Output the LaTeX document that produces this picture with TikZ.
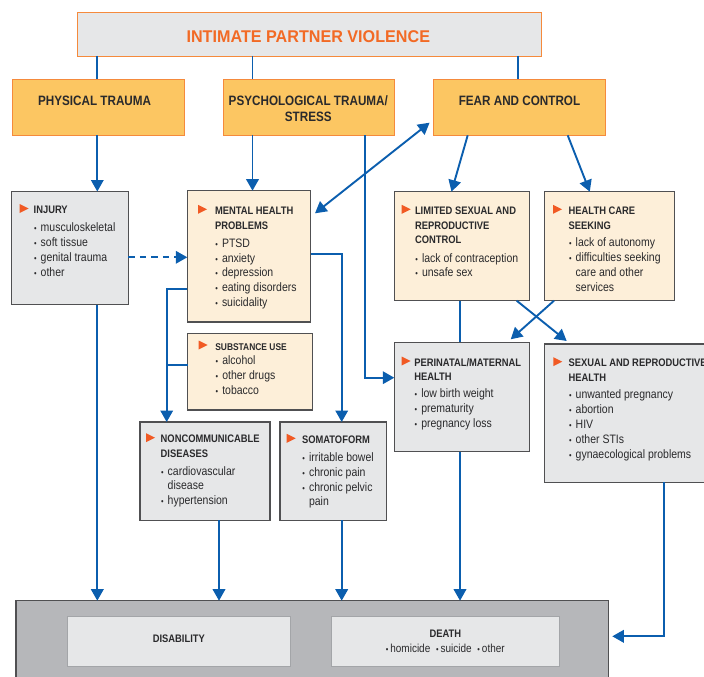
\documentclass[tikz,border=0pt]{standalone}
\usepackage{fontspec}
\setmainfont{Liberation Sans}[FakeStretch=0.86]
\newfontfamily\ipvfont{Liberation Sans}[FakeStretch=0.95]
\usetikzlibrary{arrows.meta,calc}

\definecolor{arrblue}{HTML}{0B5EAE}
\definecolor{orline}{HTML}{F58A3C}
\definecolor{ortext}{HTML}{F26A25}
\definecolor{ortri}{HTML}{F15A24}
\definecolor{lgrey}{HTML}{E6E7E8}
\definecolor{dgrey}{HTML}{505052}
\definecolor{yell}{HTML}{FCC662}
\definecolor{beige}{HTML}{FDEFD9}
\definecolor{midgrey}{HTML}{B6B7BA}
\definecolor{inbord}{HTML}{A3A5A8}
\definecolor{txt}{HTML}{2A2A2C}

\newcommand\bodyfont{\fontsize{12.2}{14.8}\selectfont}
\newcommand\ttl[1]{{\fontsize{10.9}{14.8}\selectfont\bfseries #1}\par}
\newcommand\itm[1]{\makebox[7pt][l]{\hspace{0.3pt}\fontsize{8.5}{8.5}\selectfont\textbullet}#1\par}
\newcommand\cnt[1]{\hspace*{7pt}#1\par}
\newcommand\gp[1][3.3pt]{\vspace{#1}}
\newcommand\bulin{{\fontsize{8.5}{8.5}\selectfont\textbullet}\,}
\newcommand\tri[2]{\fill[ortri] (#1,#2-9.5) -- (#1+9,#2-5) -- (#1,#2-0.5) -- cycle;}
\newcommand\content[1]{\parbox[t]{220pt}{#1}}

\tikzset{
  bx/.style={draw=dgrey, line width=1.2pt, inner sep=0pt, outer sep=0pt, anchor=north west},
  gbox/.style={bx, fill=lgrey},
  bbox/.style={bx, fill=beige},
  ybox/.style={draw=orline, line width=0.9pt, fill=yell, inner sep=0pt, outer sep=0pt, anchor=north west},
  ipvbox/.style={draw=orline, line width=0.9pt, fill=lgrey, inner sep=0pt, outer sep=0pt, anchor=north west},
  outbox/.style={draw=dgrey, line width=1.2pt, fill=midgrey, inner sep=0pt, outer sep=0pt, anchor=north west},
  inbox/.style={draw=inbord, line width=1pt, fill=lgrey, inner sep=0pt, outer sep=0pt, anchor=north west},
  txtn/.style={inner sep=0pt, outer sep=0pt, anchor=base west, text=txt, font=\bodyfont},
  ctxt/.style={inner sep=0pt, outer sep=0pt, anchor=base, text=txt},
  ln/.style={draw=arrblue, line width=1.9pt},
  arr/.style={ln, -{Triangle[length=11.5pt,width=12.5pt]}},
  darr/.style={ln, {Triangle[length=11.5pt,width=12.5pt]}-{Triangle[length=11.5pt,width=12.5pt]}},
  dsh/.style={arr, dash pattern=on 6.5pt off 5pt},
}

\begin{document}
\begin{tikzpicture}[x=1pt,y=-1pt]
\useasboundingbox (0,0) rectangle (704,677);

% ---------- boxes ----------
\node[ipvbox, minimum width=464.1, minimum height=43.7] (ipv) at (77.6,12.3) {};
\node[ybox, minimum width=171.7, minimum height=56] (pt) at (12.6,79.3) {};
\node[ybox, minimum width=170.9, minimum height=56] (psy) at (223.3,79.3) {};
\node[ybox, minimum width=171.4, minimum height=56] (fear) at (433.6,79.3) {};

\node[gbox, minimum width=116.6, minimum height=113.2] (inj) at (11.7,191.5) {};
\node[bbox, minimum width=123.4, minimum height=131.3] (ment) at (187.3,190.7) {};
\node[bbox, minimum width=134.6, minimum height=109] (lsrc) at (394.7,191.7) {};
\node[bbox, minimum width=130.4, minimum height=109] (hcs) at (544.3,191.7) {};
\node[bbox, minimum width=124.6, minimum height=76.7] (sub) at (187.7,333.3) {};
\node[gbox, minimum width=130, minimum height=98.3] (ncd) at (140,422) {};
\node[gbox, minimum width=106.7, minimum height=98.3] (som) at (280,422) {};
\node[gbox, minimum width=135.4, minimum height=109.4] (peri) at (394.3,342.3) {};
\node[gbox, minimum width=175.7, minimum height=138.3] (srh) at (544.3,344) {};

\node[outbox, minimum width=592.3, minimum height=90] (out) at (16,600.7) {};
\node[inbox, minimum width=223.3, minimum height=49.7] (dis) at (67.3,616.3) {};
\node[inbox, minimum width=228.6, minimum height=49.7] (death) at (331,616.3) {};

% ---------- texts ----------
\node[inner sep=0pt, anchor=base, text=ortext, font={\ipvfont\fontsize{17}{20}\selectfont\bfseries}] (ipvT) at (308.3,42.3) {INTIMATE PARTNER VIOLENCE};
\node[ctxt, font={\fontsize{13.6}{16}\selectfont\bfseries}] (ptT) at (94.6,106) {PHYSICAL TRAUMA};
\node[ctxt, font={\fontsize{13.6}{16}\selectfont\bfseries}] (psyT) at (308.3,106) {\parbox[t]{170pt}{\centering PSYCHOLOGICAL TRAUMA/\\STRESS}};
\node[ctxt, font={\fontsize{13.6}{16}\selectfont\bfseries}] (fearT) at (519.5,106) {FEAR AND CONTROL};

\tri{19.7}{213.5}
\node[txtn] (injT) at (33.7,213.5) {\content{\ttl{INJURY}\gp[3.6pt]\itm{musculoskeletal}\itm{soft tissue}\itm{genital trauma}\itm{other}}};

\tri{198}{214.3}
\node[txtn] (mentT) at (215,214.3) {\content{\ttl{MENTAL HEALTH}\ttl{PROBLEMS}\gp\itm{PTSD}\itm{anxiety}\itm{depression}\itm{eating disorders}\itm{suicidality}}};

\tri{401.7}{214.3}
\node[txtn] (lsrcT) at (415,214.3) {\content{\ttl{LIMITED SEXUAL AND}\ttl{REPRODUCTIVE}\ttl{CONTROL}\gp\itm{lack of contraception}\itm{unsafe sex}}};

\tri{553}{214.3}
\node[txtn] (hcsT) at (568.7,214.3) {\content{\ttl{HEALTH CARE}\ttl{SEEKING}\gp[2.8pt]\itm{lack of autonomy}\itm{difficulties seeking}\cnt{care and other}\cnt{services}}};

\tri{198.7}{350}
\node[txtn] (subT) at (215.3,350) {\content{{\fontsize{9.8}{14.6}\selectfont\bfseries SUBSTANCE USE}\par\itm{alcohol}\itm{other drugs}\itm{tobacco}}};

\tri{146}{442.7}
\node[txtn] (ncdT) at (160.7,442.7) {\content{\ttl{NONCOMMUNICABLE}\ttl{DISEASES}\gp[2.8pt]\itm{cardiovascular}\cnt{disease}\itm{hypertension}}};

\tri{286.7}{443.3}
\node[txtn] (somT) at (302,443.3) {\content{\ttl{SOMATOFORM}\gp\itm{irritable bowel}\itm{chronic pain}\itm{chronic pelvic}\cnt{pain}}};

\tri{401.7}{366}
\node[txtn] (periT) at (414.3,366) {\content{\ttl{PERINATAL/MATERNAL}\ttl{HEALTH}\gp[1.9pt]\itm{low birth weight}\itm{prematurity}\itm{pregnancy loss}}};

\tri{553.3}{366.7}
\node[txtn] (srhT) at (568.7,366.7) {\content{\ttl{SEXUAL AND REPRODUCTIVE}\ttl{HEALTH}\gp[2.5pt]\itm{unwanted pregnancy}\itm{abortion}\itm{HIV}\itm{other STIs}\itm{gynaecological problems}}};

\node[ctxt, font={\fontsize{10.9}{14}\selectfont\bfseries}] (disT) at (178.8,642) {DISABILITY};
\node[ctxt, font=\bodyfont] (deathT) at (445.3,637.3) {\parbox[t]{220pt}{\centering{\fontsize{10.9}{15.4}\selectfont\bfseries DEATH}\par\fontsize{11.6}{15.4}\selectfont\bulin homicide\enspace\bulin suicide\enspace\bulin other\par}};

% ---------- helper coordinates ----------
\coordinate (xA) at (97.3,0);
\coordinate (xB) at (252.5,0);
\coordinate (xC) at (518,0);
\coordinate (xD) at (364.6,0);
\coordinate (xE) at (166.7,0);
\coordinate (xF) at (341.7,0);
\coordinate (xG) at (219,0);
\coordinate (xH) at (460,0);
\coordinate (xI) at (663.7,0);
\coordinate (yDash) at (0,257.3);
\coordinate (yM1) at (0,289.3);
\coordinate (ySub) at (0,365);
\coordinate (yM2) at (0,254.3);
\coordinate (yPeri) at (0,377.7);
\coordinate (yRet) at (0,636.3);

% ---------- connectors ----------
\draw[ln] (ipv.south -| xA) -- (pt.north -| xA);
\draw[ln] (ipv.south -| xB) -- (psy.north -| xB);
\draw[ln] (ipv.south -| xC) -- (fear.north -| xC);

\draw[arr] (pt.south -| xA) -- (inj.north -| xA);
\draw[arr] (psy.south -| xB) -- (ment.north -| xB);
\draw[arr] (psy.south -| xD) |- (peri.west |- yPeri);
\draw[darr] ($(ment.north east)+(4.3,22.6)$) -- ($(fear.west)+(-4,15.4)$);
\draw[arr] ($(fear.south west)+(34.1,0)$) -- ($(lsrc.north west)+(56.8,0)$);
\draw[arr] ($(fear.south west)+(134.1,0)$) -- ($(hcs.north west)+(45.5,0)$);

\draw[dsh] (inj.east |- yDash) -- (ment.west |- yDash);
\draw[arr] (ment.west |- yM1) -| (ncd.north -| xE);
\draw[ln] (sub.west |- ySub) -- (xE |- ySub);
\draw[arr] (ment.east |- yM2) -| (som.north -| xF);

\draw[ln] (lsrc.south -| xH) -- (peri.north -| xH);
\draw[arr] ($(lsrc.south west)+(122,0)$) -- ($(srh.north west)+(22.4,-3)$);
\draw[arr] ($(hcs.south west)+(9.7,0)$) -- ($(peri.north west)+(116.4,-3)$);

\draw[arr] (inj.south -| xA) -- (out.north -| xA);
\draw[arr] (ncd.south -| xG) -- (out.north -| xG);
\draw[arr] (som.south -| xF) -- (out.north -| xF);
\draw[arr] (peri.south -| xH) -- (out.north -| xH);
\draw[arr] (srh.south -| xI) |- ($(out.east |- yRet)+(4,0)$);
\end{tikzpicture}
\end{document}
